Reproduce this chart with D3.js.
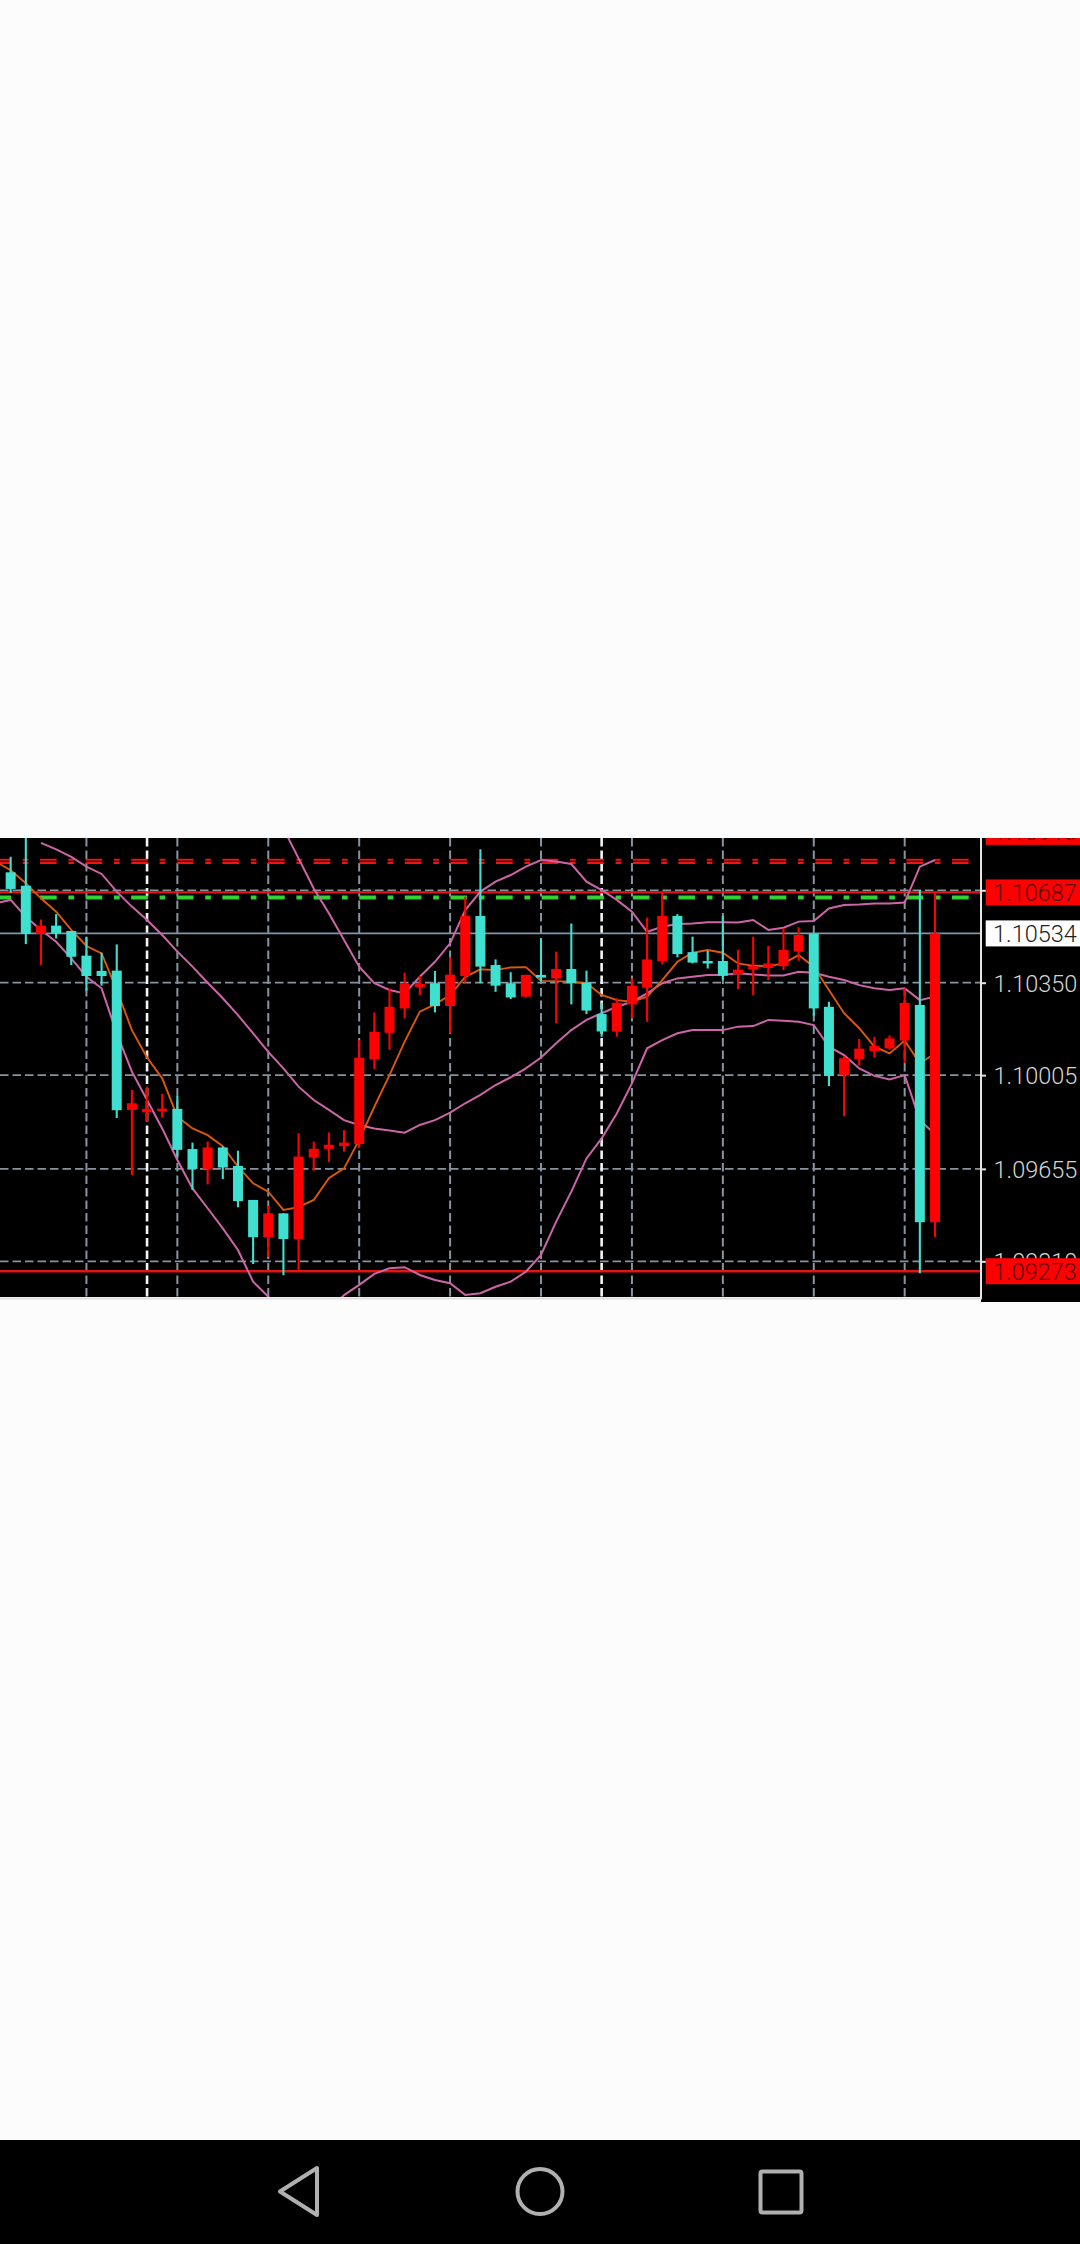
<!DOCTYPE html>
<html><head><meta charset="utf-8">
<script src="https://cdnjs.cloudflare.com/ajax/libs/d3/7.8.5/d3.min.js"></script>
<style>html,body{margin:0;padding:0;background:#fcfcfc}svg{display:block}</style></head>
<body><svg id="c" width="1080" height="2244"></svg>
<script>
const opens=[1.10762,1.10712,1.10532,1.10563,1.10543,1.10451,1.10394,1.10395,1.09875,1.09866,1.09872,1.09879,1.09729,1.09655,1.09735,1.09666,1.09539,1.09400,1.09489,1.09393,1.09697,1.09730,1.09740,1.09748,1.10064,1.10163,1.10254,1.10333,1.10348,1.10263,1.10375,1.10599,1.10416,1.10348,1.10298,1.10379,1.10366,1.10401,1.10350,1.10233,1.10168,1.10269,1.10331,1.10431,1.10599,1.10464,1.10431,1.10431,1.10382,1.10399,1.10405,1.10412,1.10466,1.10533,1.10260,1.10005,1.10064,1.10094,1.10105,1.10134,1.10267,1.09456];
const closes=[1.10700,1.10532,1.10563,1.10534,1.10447,1.10375,1.10375,1.09874,1.09900,1.09879,1.09880,1.09726,1.09655,1.09735,1.09660,1.09535,1.09400,1.09489,1.09393,1.09701,1.09730,1.09745,1.09753,1.10070,1.10167,1.10260,1.10345,1.10345,1.10263,1.10380,1.10599,1.10410,1.10339,1.10295,1.10379,1.10369,1.10401,1.10348,1.10246,1.10168,1.10275,1.10338,1.10437,1.10599,1.10457,1.10425,1.10422,1.10376,1.10399,1.10412,1.10422,1.10472,1.10528,1.10254,1.10002,1.10068,1.10104,1.10114,1.10142,1.10275,1.09456,1.10534];
const highs=[1.10820,1.10890,1.10586,1.10606,1.10543,1.10522,1.10462,1.10493,1.09949,1.09962,1.09935,1.09927,1.09753,1.09757,1.09738,1.09723,1.09539,1.09517,1.09489,1.09788,1.09757,1.09791,1.09800,1.10136,1.10239,1.10329,1.10387,1.10375,1.10394,1.10445,1.10671,1.10848,1.10437,1.10389,1.10380,1.10515,1.10466,1.10571,1.10395,1.10275,1.10292,1.10366,1.10593,1.10690,1.10606,1.10522,1.10469,1.10599,1.10472,1.10522,1.10487,1.10553,1.10557,1.10533,1.10279,1.10076,1.10140,1.10148,1.10153,1.10329,1.10696,1.10690];
const lows=[1.10686,1.10494,1.10416,1.10515,1.10416,1.10320,1.10339,1.09845,1.09632,1.09831,1.09846,1.09701,1.09576,1.09597,1.09617,1.09512,1.09300,1.09327,1.09258,1.09275,1.09648,1.09681,1.09719,1.09732,1.10028,1.10099,1.10217,1.10304,1.10239,1.10161,1.10350,1.10348,1.10316,1.10289,1.10295,1.10354,1.10198,1.10269,1.10233,1.10148,1.10148,1.10218,1.10204,1.10418,1.10445,1.10422,1.10403,1.10362,1.10326,1.10304,1.10360,1.10397,1.10432,1.10227,1.09964,1.09852,1.10043,1.10071,1.10099,1.10049,1.09265,1.09400];

// Indicator series; each starts at the bar index in its *Start constant
const maStart=-1;
const maValues=[1.10802,1.10770,1.10721,1.10665,1.10615,1.10547,1.10487,1.10459,1.10323,1.10173,1.10071,1.09993,1.09850,1.09806,1.09781,1.09740,1.09663,1.09601,1.09570,1.09502,1.09512,1.09539,1.09620,1.09657,1.09763,1.09887,1.10005,1.10130,1.10242,1.10269,1.10304,1.10372,1.10400,1.10397,1.10407,1.10408,1.10357,1.10356,1.10354,1.10348,1.10304,1.10285,1.10279,1.10298,1.10360,1.10428,1.10462,1.10472,1.10462,1.10422,1.10413,1.10412,1.10422,1.10453,1.10410,1.10323,1.10236,1.10180,1.10111,1.10086,1.10134,1.10049,1.10086];
const midStart=2;
const midValues=[1.10872,1.10848,1.10820,1.10783,1.10756,1.10690,1.10634,1.10584,1.10528,1.10466,1.10410,1.10350,1.10292,1.10229,1.10161,1.10092,1.10030,1.09962,1.09912,1.09875,1.09837,1.09819,1.09806,1.09798,1.09790,1.09819,1.09837,1.09865,1.09900,1.09931,1.09968,1.09997,1.10030,1.10071,1.10124,1.10173,1.10211,1.10236,1.10260,1.10279,1.10310,1.10348,1.10366,1.10372,1.10379,1.10379,1.10385,1.10381,1.10377,1.10377,1.10391,1.10387,1.10372,1.10360,1.10341,1.10329,1.10323,1.10329,1.10285,1.10298];
const upperStart=18;
const upperValues=[1.10926,1.10814,1.10702,1.10609,1.10509,1.10410,1.10348,1.10323,1.10310,1.10372,1.10428,1.10497,1.10621,1.10690,1.10727,1.10752,1.10783,1.10808,1.10802,1.10793,1.10727,1.10696,1.10659,1.10615,1.10540,1.10559,1.10569,1.10571,1.10576,1.10576,1.10575,1.10584,1.10547,1.10555,1.10578,1.10580,1.10627,1.10640,1.10642,1.10646,1.10646,1.10649,1.10783,1.10808];
const lowerStart=-1;
const lowerValues=[1.10646,1.10659,1.10596,1.10547,1.10503,1.10441,1.10372,1.10329,1.10161,1.10018,1.09912,1.09806,1.09688,1.09582,1.09508,1.09433,1.09352,1.09234,1.09178,1.09128,1.09104,1.09091,1.09128,1.09184,1.09222,1.09263,1.09284,1.09288,1.09259,1.09240,1.09228,1.09184,1.09191,1.09215,1.09234,1.09271,1.09334,1.09458,1.09570,1.09694,1.09769,1.09862,1.09974,1.10105,1.10136,1.10161,1.10173,1.10173,1.10173,1.10186,1.10188,1.10211,1.10208,1.10204,1.10192,1.10111,1.10080,1.10030,1.10002,1.09989,1.10005,1.09837,1.09784];

const gridPrices=[1.10695,1.10350,1.10005,1.09655,1.09310];
const hiddenTickLabel=1.10695;
const gridBars=[5,9,11,17,23,29,35,39,41,47,53,59];
const boldGridBars=[9,39];
const resistance=1.10687, bid=1.10534, support=1.09273, topLevel=1.10913;
const redDashLevels=[1.10809,1.10797];
const greenDashLevel=1.10668;

const W=1080,H=2244,plotTop=838,plotBot=1297,frameX=981;
const svg=d3.select('#c');
const x=d3.scaleLinear().domain([0,61]).range([10.67,935]);
const y=d3.scaleLinear().domain([1.10350,1.09310]).range([982.7,1261.3]);

svg.append('rect').attr('width',W).attr('height',H).attr('fill','#fcfcfc');
svg.append('rect').attr('x',0).attr('y',plotTop).attr('width',W).attr('height',plotBot-plotTop).attr('fill','#000');
svg.append('rect').attr('x',frameX).attr('y',plotTop).attr('width',W-frameX).attr('height',1302-plotTop).attr('fill','#000');

const defs=svg.append('defs');
defs.append('clipPath').attr('id','plot').append('rect').attr('x',0).attr('y',plotTop).attr('width',frameX).attr('height',plotBot-plotTop);
defs.append('clipPath').attr('id','panel').append('rect').attr('x',frameX).attr('y',plotTop).attr('width',W-frameX).attr('height',1302-plotTop);
defs.append('filter').attr('id','soft').attr('x','-2%').attr('y','-2%').attr('width','104%').attr('height','104%')
  .append('feGaussianBlur').attr('stdDeviation',0.55);

const plot=svg.append('g').attr('clip-path','url(#plot)').append('g').attr('filter','url(#soft)');
const gridCol='#8794a0';
plot.append('g').selectAll('line').data(gridPrices).join('line')
  .attr('x1',0).attr('x2',frameX).attr('y1',d=>y(d)).attr('y2',d=>y(d))
  .attr('stroke',gridCol).attr('stroke-width',1.8).attr('stroke-dasharray','8.5 4');
plot.append('g').selectAll('line').data(gridBars).join('line')
  .attr('x1',d=>x(d)).attr('x2',d=>x(d)).attr('y1',plotTop).attr('y2',plotBot)
  .attr('stroke',d=>boldGridBars.includes(d)?'#f4f4f4':gridCol)
  .attr('stroke-width',d=>boldGridBars.includes(d)?2.6:2).attr('stroke-dasharray','8.5 4');

// key horizontal levels
const dd='16.7 11.7 5.7 11.5';
plot.append('g').selectAll('line').data(redDashLevels).join('line')
  .attr('x1',0).attr('x2',frameX-2).attr('y1',d=>y(d)).attr('y2',d=>y(d))
  .attr('stroke','#e81414').attr('stroke-width',2.2).attr('stroke-dasharray',dd).attr('stroke-dashoffset',5.6);
plot.append('line').attr('x1',0).attr('x2',frameX-2).attr('y1',y(greenDashLevel)).attr('y2',y(greenDashLevel))
  .attr('stroke','#32d232').attr('stroke-width',3.8).attr('stroke-dasharray',dd).attr('stroke-dashoffset',5.6);
plot.append('g').selectAll('line').data([resistance,support]).join('line')
  .attr('x1',0).attr('x2',frameX).attr('y1',d=>y(d)).attr('y2',d=>y(d))
  .attr('stroke','#e01818').attr('stroke-width',2.4);
plot.append('line').attr('x1',0).attr('x2',frameX).attr('y1',y(bid)).attr('y2',y(bid))
  .attr('stroke','#8496a6').attr('stroke-width',1.9);

// indicators
const lineOf=start=>d3.line().x((d,i)=>x(i+start)).y(d=>y(d));
[[upperValues,upperStart],[midValues,midStart],[lowerValues,lowerStart]].forEach(([v,s])=>{
  plot.append('path').attr('d',lineOf(s)(v)).attr('fill','none').attr('stroke','#cc66a8').attr('stroke-width',2);
});
plot.append('path').attr('d',lineOf(maStart)(maValues)).attr('fill','none').attr('stroke','#dc580c').attr('stroke-width',1.9);

// candles
const bars=opens.map((o,i)=>({i,o,c:closes[i],h:highs[i],l:lows[i]}));
const col=d=>d.c>=d.o?'#ff0000':'#40e0d0';
const cg=plot.append('g');
cg.selectAll('line').data(bars).join('line')
  .attr('x1',d=>x(d.i)).attr('x2',d=>x(d.i)).attr('y1',d=>y(d.h)).attr('y2',d=>y(d.l))
  .attr('stroke',col).attr('stroke-width',2.1);
cg.selectAll('rect').data(bars).join('rect')
  .attr('x',d=>x(d.i)-5).attr('width',10)
  .attr('y',d=>y(Math.max(d.o,d.c))).attr('height',d=>Math.max(2.5,Math.abs(y(d.o)-y(d.c))))
  .attr('fill',col);

// frame
svg.append('line').attr('x1',frameX).attr('x2',frameX).attr('y1',plotTop).attr('y2',1299).attr('stroke','#e4e4e4').attr('stroke-width',2);
svg.append('line').attr('x1',0).attr('x2',frameX+1).attr('y1',1298.6).attr('y2',1298.6).attr('stroke','#dcdcdc').attr('stroke-width',2);

// price axis
const panel=svg.append('g').attr('clip-path','url(#panel)');
const font='Roboto,"DejaVu Sans",sans-serif';
const axis=d3.axisRight(y).tickValues(gridPrices).tickSize(4).tickPadding(7)
  .tickFormat(d=>d===hiddenTickLabel?'':d3.format('.5f')(d));
const ax=panel.append('g').attr('transform',`translate(${frameX+1},0)`).call(axis);
ax.select('.domain').remove();
ax.selectAll('line').attr('stroke','#e4e4e4').attr('stroke-width',2);
ax.selectAll('text').attr('fill','#d4d4d4').attr('font-family',font).attr('font-weight',300).attr('font-size',23.5).attr('x',11.5).attr('dy','0.36em');

const tags=[[topLevel,'#ff0000','#5a0606'],[resistance,'#ff0000','#5a0606'],[bid,'#ffffff','#222'],[support,'#ff0000','#5a0606']];
const tg=panel.append('g').selectAll('g').data(tags).join('g');
tg.append('rect').attr('x',985.7).attr('width',W-985.7).attr('y',d=>y(d[0])-13).attr('height',26).attr('fill',d=>d[1]);
tg.append('text').attr('x',993).attr('y',d=>y(d[0])).attr('dy','0.36em')
  .attr('font-family',font).attr('font-weight',300).attr('font-size',23.5).attr('fill',d=>d[2]).text(d=>d3.format('.5f')(d[0]));

// navigation bar
svg.append('rect').attr('x',0).attr('y',2140).attr('width',W).attr('height',H-2140).attr('fill','#000');
const nav=svg.append('g').attr('fill','none').attr('stroke','#b0b0b0').attr('stroke-width',4).attr('stroke-linejoin','round');
nav.append('path').attr('d','M280,2191.5L317,2168V2215Z');
nav.append('circle').attr('cx',540).attr('cy',2191.5).attr('r',22.5);
nav.append('rect').attr('x',760.5).attr('y',2171.5).attr('width',41).attr('height',41).attr('rx',2);
</script></body></html>
